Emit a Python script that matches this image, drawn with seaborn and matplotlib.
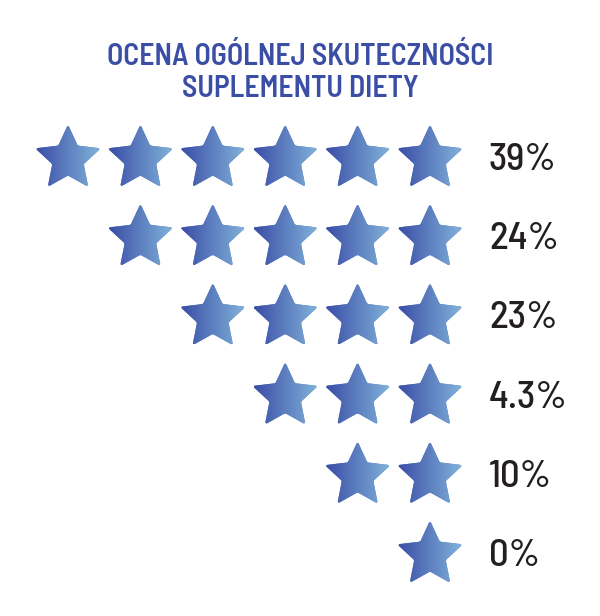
import numpy as np
import pandas as pd
import matplotlib
matplotlib.use("Agg")
import matplotlib.pyplot as plt
from matplotlib.path import Path
from matplotlib.patches import PathPatch
from matplotlib.colors import LinearSegmentedColormap
import seaborn as sns

# --- DATA
title = "OCENA OGÓLNEJ SKUTECZNOŚCI\nSUPLEMENTU DIETY"
stars = [6, 5, 4, 3, 2, 1]
labels = ["39%", "24%", "23%", "4.3%", "10%", "0%"]

MAXSTARS = 6
rows = []
for r, n in enumerate(stars):
    for c in range(MAXSTARS - n + 1, MAXSTARS + 1):
        rows.append({"row": r, "col": c})
df = pd.DataFrame(rows)

# --- STYLE
sns.set_theme(style="white")
plt.rcParams['font.family'] = ['Barlow Semi Condensed', 'DejaVu Sans']

DARK = "#3b4ea6"
LIGHT = "#80b2da"
cmap = LinearSegmentedColormap.from_list("starblue", [DARK, LIGHT])

# pixel layout
PX_X = 72.4      # px per column
PX_Y = 79.2      # px per row
X0, Y0 = 68, 159  # px centre of col 1 / row 0
W, H = 600, 616

fig = plt.figure(figsize=(W / 100, H / 100), dpi=100)
ax = fig.add_axes([0, 0, 1, 1])
ax.axis("off")


def star_path(cx, cy, R=34.5, ratio=0.48, rnd=0.13):
    # rounded star in px, then scaled to data units
    ang = np.pi / 2 + np.arange(10) * np.pi / 5
    rad = np.where(np.arange(10) % 2 == 0, R, R * ratio)
    pts = np.c_[rad * np.cos(ang), rad * np.sin(ang)]
    verts, codes = [], []
    n = len(pts)
    for i in range(n):
        p, prev, nxt = pts[i], pts[i - 1], pts[(i + 1) % n]
        f = rnd if i % 2 == 0 else rnd * 0.5
        a = p + (prev - p) * f
        b = p + (nxt - p) * f
        verts.append(a)
        codes.append(Path.MOVETO if i == 0 else Path.LINETO)
        verts += [p, b]
        codes += [Path.CURVE3, Path.CURVE3]
    verts.append(verts[0])
    codes.append(Path.CLOSEPOLY)
    v = np.array(verts)
    v[:, 0] = cx + v[:, 0] / PX_X
    v[:, 1] = cy - v[:, 1] / PX_Y
    return Path(v, codes)


grad = np.linspace(0, 1, 64).reshape(1, -1)
for _, s in df.iterrows():
    p = star_path(s["col"], s["row"])
    base = PathPatch(p, facecolor="#5b7fc0", edgecolor="none")
    ax.add_patch(base)
    ext = p.get_extents()
    im = ax.imshow(grad, cmap=cmap, aspect="auto",
                   extent=[ext.x0, ext.x1, ext.y1, ext.y0], zorder=3)
    im.set_clip_path(base)

ax.set_xlim(1 - X0 / PX_X, 1 + (W - X0) / PX_X)
ax.set_ylim((H - Y0) / PX_Y, -Y0 / PX_Y)

for r, lab in enumerate(labels):
    ax.text(MAXSTARS + (489 - 430) / PX_X, r + 1 / PX_Y, lab, ha="left", va="center",
            fontsize=28, fontweight=500, color="#231f20")

fig.text(0.5, 1 - 73 / H, title, ha="center", va="center", fontsize=21.5,
         fontweight=600, color=DARK, linespacing=1.15)

plt.savefig("out.png", dpi=100)
